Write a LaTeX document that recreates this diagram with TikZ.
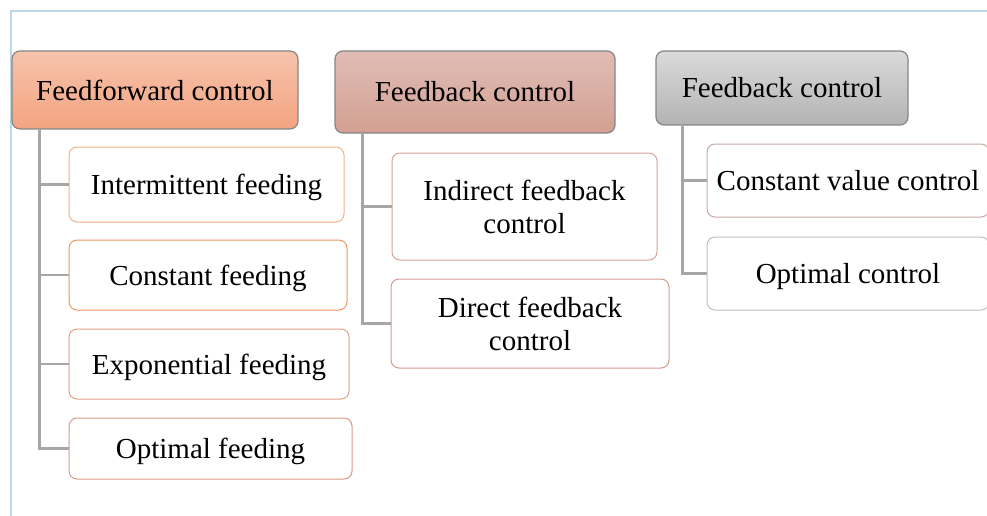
\documentclass[tikz,border=0pt]{standalone}
\usepackage{fontspec}
\setmainfont{Liberation Serif}
\usetikzlibrary{positioning}
\definecolor{frameblue}{HTML}{BDD7EE}
\definecolor{headline}{HTML}{858585}
\definecolor{trunkgray}{HTML}{A6A6A6}
\definecolor{fftop}{HTML}{F6C3AC}
\definecolor{ffbot}{HTML}{F3A480}
\definecolor{fbitop}{HTML}{E0BDB5}
\definecolor{fbibot}{HTML}{D3A093}
\definecolor{fbctop}{HTML}{DADADA}
\definecolor{fbcbot}{HTML}{B3B3B3}
\definecolor{ffedgeA}{HTML}{F4B183}
\definecolor{ffedgeB}{HTML}{EE9660}
\definecolor{ffedgeC}{HTML}{E4A088}
\definecolor{ffedgeD}{HTML}{DB9A85}
\definecolor{fbiedgeA}{HTML}{D9A299}
\definecolor{fbiedgeB}{HTML}{D49A90}
\definecolor{fbcedgeA}{HTML}{C8AAA6}
\definecolor{fbcedgeB}{HTML}{BFBFBF}
\tikzset{
  head/.style={draw=headline, line width=1.2pt, rounded corners=8pt, inner sep=0pt, align=center},
  item/.style={draw=#1, fill=white, line width=1pt, rounded corners=8pt, inner sep=0pt, align=center, text depth=0pt},
  trunk/.style={draw=trunkgray, line width=2.5pt}
}

\begin{document}
\begin{tikzpicture}[x=1pt,y=-1pt,font=\fontsize{29}{33}\selectfont]
\useasboundingbox (0,0) rectangle (987,516);
\draw[frameblue, line width=2pt] (11,516) -- (11,11) -- (987,11);

% column headers
\node[head, top color=fftop, bottom color=ffbot, minimum width=286pt, minimum height=78pt] (ff) at (155,90) {Feedforward control};
\node[head, top color=fbitop, bottom color=fbibot, minimum width=280pt, minimum height=82pt] (fbi) at (475,92) {Feedback control};
\node[head, top color=fbctop, bottom color=fbcbot, minimum width=252pt, minimum height=74pt] (fbc) at (782,88) {Feedback control};

% feedforward items
\node[item=ffedgeA, minimum width=275pt, minimum height=75pt] (ff1) at (206.5,184.5) {Intermittent feeding};
\node[item=ffedgeB, minimum width=278pt, minimum height=70pt] (ff2) at (208,275) {Constant feeding};
\node[item=ffedgeC, minimum width=280pt, minimum height=70pt] (ff3) at (209,364) {Exponential feeding};
\node[item=ffedgeD, minimum width=283pt, minimum height=61pt] (ff4) at (210.5,448.5) {Optimal feeding};

% feedback items
\node[item=fbiedgeA, minimum width=265pt, minimum height=107pt] (fbi1) at (524.5,206.5) {Indirect feedback\\control};
\node[item=fbiedgeB, minimum width=278pt, minimum height=89pt] (fbi2) at (530,323.5) {Direct feedback\\control};

% constant value items
\node[item=fbcedgeA, minimum width=282pt, minimum height=73pt] (fbc1) at (848,180.5) {Constant value control};
\node[item=fbcedgeB, minimum width=282pt, minimum height=73pt] (fbc2) at (848,273.5) {Optimal control};

% trunks and branches
\foreach \c in {ff1,ff2,ff3,ff4}
  \draw[trunk] ([xshift=28pt]ff.south west) |- (\c.west);
\foreach \c in {fbi1,fbi2}
  \draw[trunk] ([xshift=28pt]fbi.south west) |- (\c.west);
\foreach \c in {fbc1,fbc2}
  \draw[trunk] ([xshift=27pt]fbc.south west) |- (\c.west);
\end{tikzpicture}
\end{document}
